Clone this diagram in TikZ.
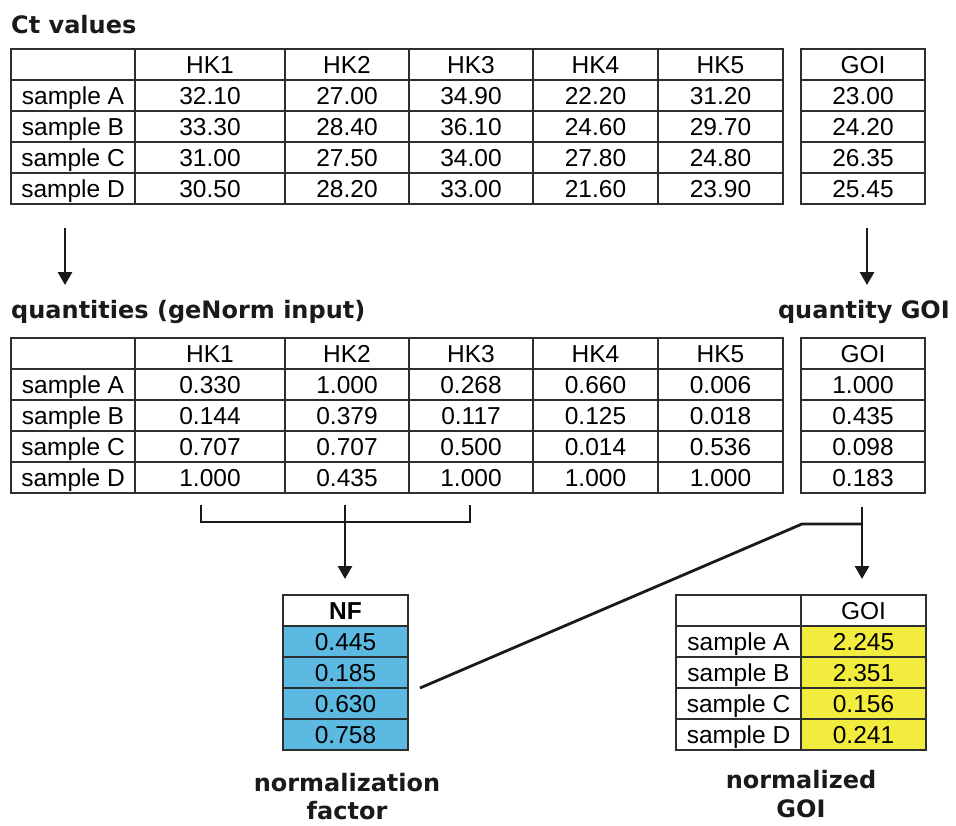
\documentclass[tikz,border=0pt]{standalone}
\usepackage{fontspec}
\usetikzlibrary{arrows.meta,calc}
\newfontfamily\tabfam{Liberation Sans}
\newfontfamily\headfam{DejaVu Sans}
\newcommand\tabtext{\tabfam\fontsize{24.5}{28}\selectfont}
\newcommand\headtext{\headfam\bfseries\fontsize{24}{28}\selectfont}
\definecolor{rulegray}{HTML}{2E2E2E}
\definecolor{nfblue}{RGB}{92,186,226}
\definecolor{goiyellow}{RGB}{242,236,62}
\definecolor{inkblack}{HTML}{1A1A1A}
\begin{document}
\begin{tikzpicture}[x=1pt,y=-1pt,
  cell/.style={draw=rulegray, line width=1.6pt, minimum height=31pt, inner sep=0pt,
    outer sep=0pt, anchor=north west, font=\tabtext, text height=17.5pt, text depth=0pt},
  nfcell/.style={cell, fill=nfblue},
  goicell/.style={cell, fill=goiyellow},
  heading/.style={font=\headtext, inner sep=0pt, text=inkblack},
  flow/.style={draw=inkblack, line width=2.8pt, -{Triangle[length=13pt,width=14pt]}},
  bracket/.style={draw=inkblack, line width=2.8pt}]
\useasboundingbox (0,0) rectangle (956,825);
\fill[white] (0,0) rectangle (956,825);

% ---- Ct values ----
\node[heading, anchor=base west] (h-ct) at (11,33) {Ct values};
\node[cell, minimum width=124pt] (ct-h0) at (11,49) {};
\foreach \n/\x/\w in {1/135/150, 2/285/124, 3/409/124, 4/533/125, 5/658/125}
  \node[cell, minimum width=\w pt] (ct-h\n) at (\x,49) {HK\n};
\node[cell, minimum width=124pt] (ct-hg) at (801,49) {GOI};
\foreach \r/\y/\s/\a/\b/\c/\d/\e/\g in {
    1/80/A/32.10/27.00/34.90/22.20/31.20/23.00,
    2/111/B/33.30/28.40/36.10/24.60/29.70/24.20,
    3/142/C/31.00/27.50/34.00/27.80/24.80/26.35,
    4/173/D/30.50/28.20/33.00/21.60/23.90/25.45} {
  \node[cell, minimum width=124pt] (ct-\r-0) at (11,\y) {sample \s};
  \node[cell, minimum width=150pt] (ct-\r-1) at (135,\y) {\a};
  \node[cell, minimum width=124pt] (ct-\r-2) at (285,\y) {\b};
  \node[cell, minimum width=124pt] (ct-\r-3) at (409,\y) {\c};
  \node[cell, minimum width=125pt] (ct-\r-4) at (533,\y) {\d};
  \node[cell, minimum width=125pt] (ct-\r-5) at (658,\y) {\e};
  \node[cell, minimum width=124pt] (ct-\r-g) at (801,\y) {\g};
}

% ---- quantities ----
\node[heading, anchor=base west] (h-q) at (11,318) {quantities (geNorm input)};
\node[heading, anchor=base east] (h-qg) at (950,318) {quantity GOI};
\node[cell, minimum width=124pt] (q-h0) at (11,338) {};
\foreach \n/\x/\w in {1/135/150, 2/285/124, 3/409/124, 4/533/125, 5/658/125}
  \node[cell, minimum width=\w pt] (q-h\n) at (\x,338) {HK\n};
\node[cell, minimum width=124pt] (q-hg) at (801,338) {GOI};
\foreach \r/\y/\s/\a/\b/\c/\d/\e/\g in {
    1/369/A/0.330/1.000/0.268/0.660/0.006/1.000,
    2/400/B/0.144/0.379/0.117/0.125/0.018/0.435,
    3/431/C/0.707/0.707/0.500/0.014/0.536/0.098,
    4/462/D/1.000/0.435/1.000/1.000/1.000/0.183} {
  \node[cell, minimum width=124pt] (q-\r-0) at (11,\y) {sample \s};
  \node[cell, minimum width=150pt] (q-\r-1) at (135,\y) {\a};
  \node[cell, minimum width=124pt] (q-\r-2) at (285,\y) {\b};
  \node[cell, minimum width=124pt] (q-\r-3) at (409,\y) {\c};
  \node[cell, minimum width=125pt] (q-\r-4) at (533,\y) {\d};
  \node[cell, minimum width=125pt] (q-\r-5) at (658,\y) {\e};
  \node[cell, minimum width=124pt] (q-\r-g) at (801,\y) {\g};
}

% ---- normalization factor ----
\node[cell, minimum width=125pt, font=\tabfam\bfseries\fontsize{24.5}{28}\selectfont] (nf-h) at (283,595) {NF};
\foreach \r/\y/\v in {1/626/0.445, 2/657/0.185, 3/688/0.630, 4/719/0.758}
  \node[nfcell, minimum width=125pt] (nf-\r) at (283,\y) {\v};
\node[heading, anchor=base] (nf-cap1) at (347,791) {normalization};
\node[heading, anchor=base] (nf-cap2) at (347,819) {factor};

% ---- normalized GOI ----
\node[cell, minimum width=125pt] (ng-h0) at (676,595) {};
\node[cell, minimum width=125pt] (ng-hg) at (801,595) {GOI};
\foreach \r/\y/\s/\v in {1/626/A/2.245, 2/657/B/2.351, 3/688/C/0.156, 4/719/D/0.241} {
  \node[cell, minimum width=125pt] (ng-\r-0) at (676,\y) {sample \s};
  \node[goicell, minimum width=125pt] (ng-\r-g) at (801,\y) {\v};
}
\node[heading, anchor=base] (ng-cap1) at (801,788) {normalized};
\node[heading, anchor=base] (ng-cap2) at (801,817) {GOI};

% ---- Ct -> quantities ----
\coordinate (ctL) at (65,228);
\coordinate (qL) at (65,285);
\coordinate (ctR) at (867,228);
\coordinate (qR) at (867,285);
\draw[flow] (ctL) -- (qL);
\draw[flow] (ctR) -- (qR);

% ---- HK1..HK3 -> NF ----
\coordinate (brL) at (201,505);
\coordinate (brR) at (470,505);
\coordinate (brM) at (345,505);
\coordinate (nfTop) at ($(nf-h.north)+(0,-16)$);
\draw[bracket] (brL) -- ++(0,17) -| (brR);
\draw[flow] (brM) -- (brM |- nfTop);

% ---- GOI / NF -> normalized GOI ----
\coordinate (goiTop) at (862,507);
\coordinate (join) at (802,524);
\coordinate (nfOut) at (420,688);
\coordinate (ngTop) at ($(ng-hg.north)+(0,-16)$);
\draw[flow] (goiTop) -- (goiTop |- ngTop);
\draw[bracket] (nfOut) -- (join) -- (join -| goiTop);
\end{tikzpicture}
\end{document}
